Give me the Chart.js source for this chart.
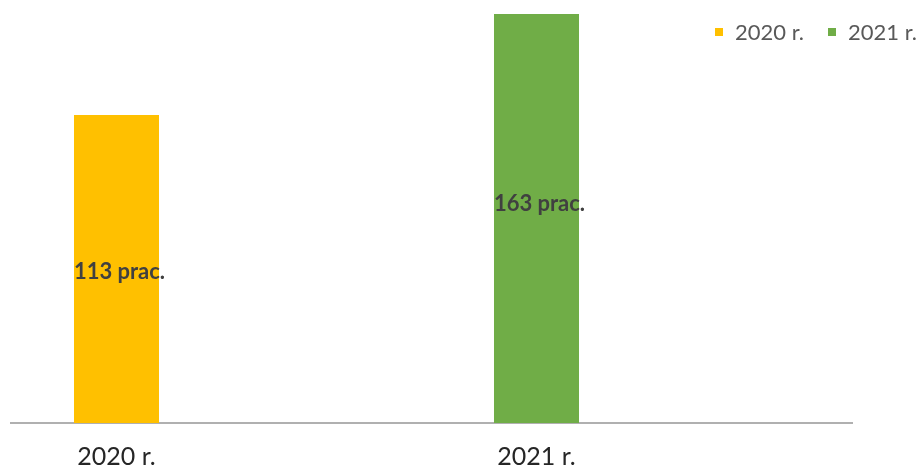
<!DOCTYPE html>
<html><head><meta charset="utf-8">
<script src="https://cdn.jsdelivr.net/npm/chart.js@4.4.1/dist/chart.umd.min.js"></script>
<style>
html,body{margin:0;padding:0;background:#fff;}
#wrap{position:relative;width:920px;height:467px;overflow:hidden;background:#fff;}
#c{position:absolute;left:-104px;top:0;}
#legend{position:absolute;top:18px;right:3px;display:flex;align-items:center;font-family:Lato,sans-serif;font-size:22px;color:#595959;white-space:nowrap;}
#legend .item{display:flex;align-items:center;margin-left:24px;}
#legend .sw{width:8px;height:8px;margin-right:12px;}
</style></head><body>
<div id="wrap"><canvas id="c" width="1024" height="467"></canvas><div id="legend"></div></div>
<script>
// ---- data ----
const categories = ['2020 r.', '2021 r.'];
const seriesNames = ['2020 r.', '2021 r.'];
const values2020 = [113, null];
const values2021 = [null, 163];
const unitSuffix = 'prac.';
const yMin = 0;
const yMax = 150;

// ---- styles ----
const colors = ['#FFC000', '#70AD47'];
const canvasShift = 104;

const barLabels = {
  id: 'barLabels',
  afterDatasetsDraw(chart) {
    const ctx = chart.ctx;
    ctx.save();
    ctx.font = 'bold 22px Lato, sans-serif';
    ctx.fillStyle = '#404040';
    ctx.textAlign = 'center';
    ctx.textBaseline = 'middle';
    chart.data.datasets.forEach((ds, i) => {
      const meta = chart.getDatasetMeta(i);
      meta.data.forEach((bar, j) => {
        const v = ds.data[j];
        if (v === null || v === undefined) return;
        const p = bar.getProps(['x', 'y', 'base'], true);
        ctx.fillText(v + ' ' + unitSuffix, p.x + 3, (p.y + p.base) / 2 + 3);
      });
    });
    ctx.restore();
  }
};

const axisLine = {
  id: 'axisLine',
  beforeDatasetsDraw(chart) {
    const ctx = chart.ctx;
    const y = chart.chartArea.bottom;
    ctx.save();
    ctx.strokeStyle = '#b0b0b0';
    ctx.lineWidth = 2;
    ctx.beginPath();
    ctx.moveTo(canvasShift + 10, y);
    ctx.lineTo(canvasShift + 853, y);
    ctx.stroke();
    ctx.restore();
  }
};

const htmlLegend = {
  id: 'htmlLegend',
  afterUpdate(chart) {
    const box = document.getElementById('legend');
    box.innerHTML = '';
    chart.options.plugins.legend.labels.generateLabels(chart).forEach(item => {
      const el = document.createElement('div');
      el.className = 'item';
      const sw = document.createElement('span');
      sw.className = 'sw';
      sw.style.background = item.fillStyle;
      const tx = document.createElement('span');
      tx.textContent = item.text;
      el.appendChild(sw); el.appendChild(tx);
      box.appendChild(el);
    });
  }
};

function draw() {
  new Chart(document.getElementById('c'), {
    type: 'bar',
    data: {
      labels: categories,
      datasets: [
        { label: seriesNames[0], data: values2020, backgroundColor: colors[0], borderWidth: 0 },
        { label: seriesNames[1], data: values2021, backgroundColor: colors[1], borderWidth: 0 }
      ]
    },
    options: {
      responsive: false,
      animation: false,
      devicePixelRatio: 1,
      grouped: false,
      categoryPercentage: 1,
      barPercentage: 0.2024,
      layout: { padding: { left: 10.5, right: 173.5, top: 14, bottom: 0 } },
      plugins: {
        legend: { display: false },
        tooltip: { enabled: false }
      },
      scales: {
        x: {
          grid: { display: false },
          border: { display: false },
          ticks: { color: '#262626', font: { family: 'Lato', size: 25 }, padding: 11, maxRotation: 0 },
          afterFit(scale) { scale.height = 44; }
        },
        y: {
          display: false,
          min: yMin,
          max: yMax
        }
      }
    },
    plugins: [axisLine, barLabels, htmlLegend]
  });
}
if (document.fonts && document.fonts.load) {
  Promise.all([document.fonts.load('25px Lato'), document.fonts.load('bold 22px Lato'), document.fonts.load('22px Lato')]).then(draw, draw);
} else draw();
</script>
</body></html>
